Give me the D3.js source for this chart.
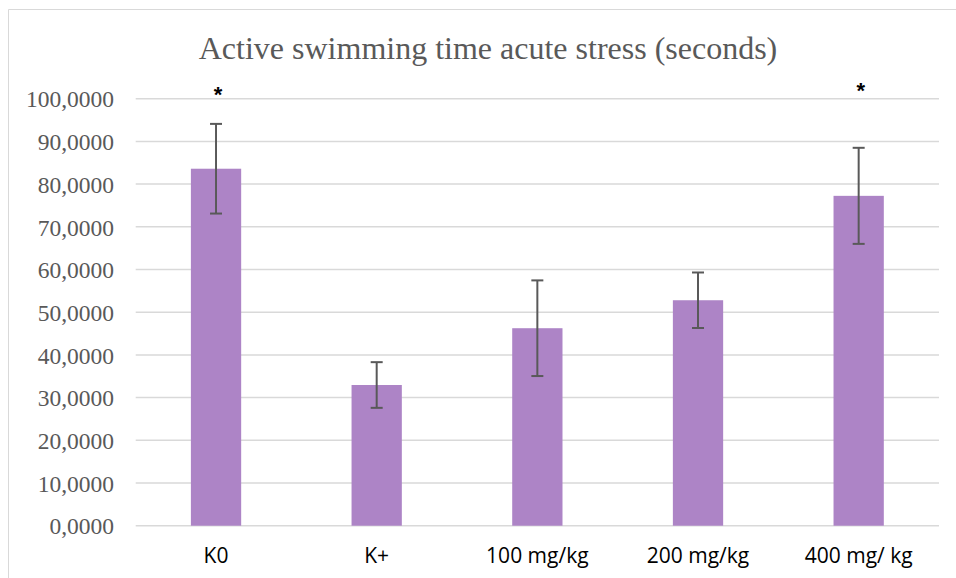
<!DOCTYPE html>
<html><head><meta charset="utf-8">
<script src="https://cdn.jsdelivr.net/npm/d3@7"></script>
<style>body{margin:0;background:#fff;} svg{display:block;}</style>
</head><body>
<svg id="c" width="956" height="578"></svg>
<script>
const categories = ["K0", "K+", "100 mg/kg", "200 mg/kg", "400 mg/ kg"];
const means = [83.6, 32.95, 46.25, 52.8, 77.25];
const errors = [10.5, 5.35, 11.2, 6.5, 11.25];
const significant = [true, false, false, false, true];
const yTicks = [0, 10, 20, 30, 40, 50, 60, 70, 80, 90, 100];
const title = "Active swimming time acute stress (seconds)";

const svg = d3.select("#c");
const W = 956, H = 578;
const m = {left: 135.7, right: 17, top: 98.7, bottom: 52.3};

// frame
svg.append("path").attr("d", `M8.5,${H} L8.5,9.5 L${W},9.5`)
  .attr("fill", "none").attr("stroke", "#d9d9d9").attr("stroke-width", 1);

const x = d3.scaleBand().domain(categories).range([m.left, W - m.right]).paddingInner(0.687).paddingOuter(0.3435);
const y = d3.scaleLinear().domain([0, 100]).range([H - m.bottom, m.top]);

// gridlines
svg.append("g").selectAll("line").data(yTicks).join("line")
  .attr("x1", m.left).attr("x2", W - m.right)
  .attr("y1", d => y(d)).attr("y2", d => y(d))
  .attr("stroke", "#d9d9d9").attr("stroke-width", 1.5);

// y axis labels
const yAxis = d3.axisLeft(y).tickValues(yTicks).tickSize(0).tickPadding(0)
  .tickFormat(d => d3.format(".4f")(d).replace(".", ","));
const gy = svg.append("g").attr("transform", `translate(114,0)`).call(yAxis);
gy.select(".domain").remove();
gy.selectAll("text").attr("font-family", "Liberation Serif, Times New Roman, serif")
  .attr("font-size", 23.5).attr("fill", "#595959").attr("dy", "0.35em");

// bars
svg.append("g").selectAll("rect").data(categories).join("rect")
  .attr("x", d => x(d)).attr("width", x.bandwidth())
  .attr("y", (d, i) => y(means[i])).attr("height", (d, i) => y(0) - y(means[i]))
  .attr("fill", "#ad84c6");

// error bars
const eg = svg.append("g").attr("stroke", "#595959").attr("stroke-width", 2);
categories.forEach((c, i) => {
  const cx = x(c) + x.bandwidth() / 2;
  const t = y(means[i] + errors[i]), b = y(means[i] - errors[i]);
  eg.append("line").attr("x1", cx).attr("x2", cx).attr("y1", t).attr("y2", b);
  eg.append("line").attr("x1", cx - 6).attr("x2", cx + 6).attr("y1", t).attr("y2", t);
  eg.append("line").attr("x1", cx - 6).attr("x2", cx + 6).attr("y1", b).attr("y2", b);
});

// significance asterisks
svg.append("g").selectAll("text").data(categories.filter((c, i) => significant[i])).join("text")
  .attr("x", d => x(d) + x.bandwidth() / 2 + 2)
  .attr("y", (d, i) => i === 0 ? 102 : 98)
  .attr("text-anchor", "middle")
  .attr("font-family", "Liberation Sans, Arial, sans-serif").attr("font-weight", "bold")
  .attr("font-size", 22).attr("fill", "#000").text("*");

// x axis labels
const xAxis = d3.axisBottom(x).tickSize(0).tickPadding(0);
const gx = svg.append("g").attr("transform", `translate(0,${y(0)})`).call(xAxis);
gx.select(".domain").remove();
gx.selectAll("text").attr("font-family", "Open Sans, sans-serif").attr("font-size", 21)
  .attr("fill", "#000").attr("dy", 0).attr("y", 37);

// title
svg.append("text").attr("x", 488).attr("y", 59)
  .attr("text-anchor", "middle")
  .attr("font-family", "Liberation Serif, Times New Roman, serif")
  .attr("font-size", 32).attr("fill", "#595959").text(title);
</script>
</body></html>
